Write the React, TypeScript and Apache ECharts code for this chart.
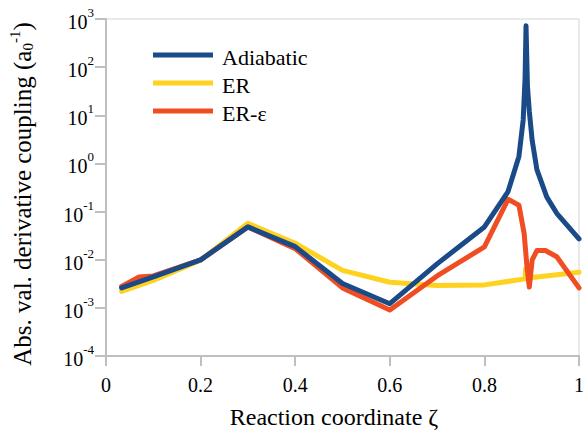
import React, { useEffect, useRef } from "react";
import * as echarts from "echarts";

const seriesNames = ["Adiabatic", "ER", "ER-ε"];
const seriesColors = ["#1A4A88", "#FFD21F", "#F04E22"];

const adiabaticX = [0.033, 0.1, 0.2, 0.3, 0.4, 0.5, 0.6, 0.7, 0.8, 0.85, 0.873, 0.882, 0.886, 0.888, 0.891, 0.895, 0.901, 0.911, 0.932, 0.953, 1.0];
const adiabaticY = [0.0026, 0.0044, 0.0099, 0.048, 0.0187, 0.0032, 0.00122, 0.0082, 0.048, 0.26, 1.4, 8, 60, 720, 40, 12, 3, 0.74, 0.2, 0.092, 0.027];

const erX = [0.033, 0.1, 0.2, 0.3, 0.4, 0.5, 0.6, 0.7, 0.8, 0.886, 0.887, 0.888, 1.0];
const erY = [0.0022, 0.0037, 0.0098, 0.057, 0.022, 0.006, 0.0034, 0.0029, 0.003, 0.004, 0.0065, 0.0041, 0.0055];

const erEpsX = [0.033, 0.07, 0.1, 0.2, 0.3, 0.4, 0.5, 0.6, 0.7, 0.8, 0.85, 0.873, 0.884, 0.89, 0.895, 0.901, 0.911, 0.929, 0.953, 1.0];
const erEpsY = [0.0028, 0.0044, 0.0046, 0.0099, 0.048, 0.017, 0.0026, 0.0009, 0.0046, 0.0185, 0.18, 0.135, 0.035, 0.0072, 0.0027, 0.0099, 0.0155, 0.0155, 0.0115, 0.0026];

const xTicks = [0, 0.2, 0.4, 0.6, 0.8, 1];
const yExponents = [-4, -3, -2, -1, 0, 1, 2, 3];

const FONT = "'Liberation Serif', 'Times New Roman', serif";

function pairs(xs: number[], ys: number[]) {
  return xs.map((x, i) => [x, ys[i]]);
}

export default function App() {
  const ref = useRef<HTMLDivElement>(null);
  useEffect(() => {
    if (!ref.current) return;
    const chart = echarts.init(ref.current, undefined, { renderer: "svg" });
    const mk = (name: string, color: string, data: number[][], z: number) => ({
      name,
      type: "line",
      data,
      showSymbol: false,
      symbol: "none",
      z,
      lineStyle: { color, width: 5, cap: "round", join: "round" },
      itemStyle: { color },
    });
    chart.setOption({
      animation: false,
      backgroundColor: "#ffffff",
      textStyle: { fontFamily: FONT },
      grid: {
        left: 106,
        right: 3,
        top: 19,
        bottom: 76,
        show: true,
        borderColor: "#D4D4D4",
        borderWidth: 1,
        backgroundColor: "transparent",
      },
      legend: {
        orient: "vertical",
        left: 153,
        top: 46,
        padding: 0,
        itemWidth: 60,
        itemHeight: 5,
        itemGap: 6,
        icon: "rect",
        data: seriesNames,
        formatter: (name: string) => "{t|" + name + "}",
        textStyle: {
          fontFamily: FONT,
          fontSize: 22,
          color: "#000",
          padding: [0, 0, 0, 4],
          rich: { t: { fontFamily: FONT, fontSize: 22, color: "#000", lineHeight: 26, verticalAlign: "bottom" } },
        },
      },
      xAxis: {
        type: "value",
        min: xTicks[0],
        max: xTicks[xTicks.length - 1],
        interval: 0.2,
        axisLine: { show: true, lineStyle: { color: "#BFBFBF", width: 2 } },
        axisTick: { show: true, inside: false, length: 10, lineStyle: { color: "#BFBFBF", width: 2 } },
        splitLine: { show: false },
        axisLabel: {
          margin: 17,
          formatter: (v: number) => "{b|" + v + "}",
          rich: {
            b: { fontFamily: FONT, fontSize: 20, color: "#000", lineHeight: 22, verticalAlign: "bottom" },
          },
        },
      },
      yAxis: {
        type: "log",
        logBase: 10,
        min: Math.pow(10, yExponents[0]),
        max: Math.pow(10, yExponents[yExponents.length - 1]),
        splitNumber: 7,
        axisLine: { show: true, onZero: false, lineStyle: { color: "#BFBFBF", width: 2 } },
        axisTick: { show: true, inside: false, length: 11, lineStyle: { color: "#BFBFBF", width: 2 } },
        splitLine: { show: false },
        minorTick: { show: false },
        axisLabel: {
          margin: 12,
          formatter: (v: number) => {
            const e = Math.round(Math.log10(v));
            return "{b|10}{s|" + e + "}";
          },
          rich: {
            b: { fontFamily: FONT, fontSize: 20, color: "#000", lineHeight: 26, verticalAlign: "bottom" },
            s: { fontFamily: FONT, fontSize: 13, color: "#000", lineHeight: 14, verticalAlign: "top" },
          },
        },
      },
      graphic: [
        {
          type: "text",
          x: 334,
          y: 417,
          style: {
            text: "{t|Reaction coordinate ζ}",
            align: "center",
            verticalAlign: "middle",
            rich: { t: { fontFamily: FONT, fontSize: 24, fill: "#000", lineHeight: 28, verticalAlign: "middle" } },
          },
        },
        {
          type: "text",
          x: 22,
          y: 194,
          rotation: Math.PI / 2,
          style: {
            text: "{t|Abs. val. derivative coupling (a}{sub|0}{sup|-1}{t|)}",
            align: "center",
            verticalAlign: "middle",
            rich: {
              t: { fontFamily: FONT, fontSize: 25, fill: "#000", lineHeight: 30, verticalAlign: "middle" },
              sub: { fontFamily: FONT, fontSize: 15, fill: "#000", lineHeight: 30, verticalAlign: "bottom", padding: [0, 0, 2, 0] },
              sup: { fontFamily: FONT, fontSize: 15, fill: "#000", lineHeight: 15, verticalAlign: "top" },
            },
          },
        },
      ],
      series: [
        mk(seriesNames[1], seriesColors[1], pairs(erX, erY), 2),
        mk(seriesNames[2], seriesColors[2], pairs(erEpsX, erEpsY), 3),
        mk(seriesNames[0], seriesColors[0], pairs(adiabaticX, adiabaticY), 4),
      ],
    });
    return () => chart.dispose();
  }, []);
  return <div ref={ref} style={{ width: 587, height: 432, position: "absolute", left: 0, top: 0 }} />;
}
